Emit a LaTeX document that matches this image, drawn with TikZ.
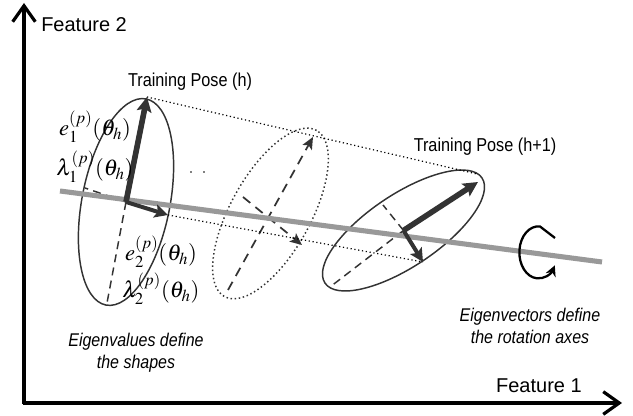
\documentclass[tikz,border=0pt]{standalone}
\usepackage{mathptmx}
\usepackage{fontspec}
\setmainfont{Liberation Sans}
\newfontfamily\narrowfont[FakeStretch=0.87]{Liberation Sans}
\usepackage{tikz}
\usetikzlibrary{arrows.meta,calc}
\definecolor{ink}{HTML}{333333}

\begin{document}
\begin{tikzpicture}[
    x=0.75pt, y=0.75pt,
    axisline/.style={line width=2.4pt, -{Straight Barb[length=12pt,width=17pt]}},
    posering/.style={draw=ink, line width=1.1pt},
    guessring/.style={draw=ink, line width=1.1pt, dotted},
    majorvec/.style={draw=ink, line width=4.2pt, -{Stealth[length=11pt,width=11pt,inset=2pt]}},
    minorvec/.style={draw=ink, line width=3pt, -{Stealth[length=10pt,width=10pt,inset=2pt]}},
    halfaxis/.style={draw=ink, line width=1.1pt, dash pattern=on 6pt off 4pt},
    dashvec/.style={draw=ink, line width=1.3pt, dash pattern=on 7pt off 5pt, -{Stealth[length=9pt,width=8pt,inset=2pt]}},
    link/.style={line width=0.9pt, dotted},
    rotaxis/.style={draw=gray!80, line width=3.8pt},
    spin/.style={line width=1.7pt, -{Stealth[length=8pt,width=8pt]}},
    axislabel/.style={font=\fontsize{15}{17}\selectfont, inner sep=0pt},
    poselabel/.style={font=\narrowfont\fontsize{14}{16}\selectfont, inner sep=0pt},
    note/.style={font=\narrowfont\itshape\fontsize{13.8}{16.5}\selectfont, align=center, inner sep=0pt},
    eig/.style={font=\fontsize{17}{19}\selectfont, inner sep=0pt}
  ]
  \useasboundingbox (0,0) rectangle (633,416);

  % Axes
  \coordinate (origin) at (24,13);
  \coordinate (ytop) at (24,413);
  \coordinate (xend) at (622,13);
  \draw[axisline] ($(origin)+(0,-1.2)$) -- (ytop);
  \draw[axisline] ($(origin)+(-1.2,0)$) -- (xend);
  \node[axislabel, anchor=west] (f2) at (41,391) {Feature 2};
  \node[axislabel, anchor=east] (f1) at (582,30) {Feature 1};

  % Pose h
  \coordinate (c1) at (126,214);
  \coordinate (t1) at (147,319);
  \coordinate (b1) at (107,113);
  \coordinate (l1) at (85,228);
  \coordinate (r1) at (168,201);
  \draw[posering, rotate around={79:(c1)}] (c1) ellipse [x radius=105, y radius=44];
  \draw[halfaxis] (c1) -- (b1);
  \draw[halfaxis] (c1) -- (l1);

  % Interpolated pose
  \coordinate (c2) at (270.5,202.5);
  \coordinate (t2) at (313,279);
  \coordinate (b2) at (228,126);
  \coordinate (l2) at (243,219);
  \coordinate (r2) at (302,171);
  \draw[guessring, rotate around={61:(c2)}] (c2) ellipse [x radius=95, y radius=40];
  \draw[dashvec] (b2) -- (t2);
  \draw[dashvec] (l2) -- (r2);
  \fill (191,244) circle (0.7pt) (204,244) circle (0.7pt);

  % Pose h+1
  \coordinate (c3) at (403.5,185.5);
  \coordinate (t3) at (478,234);
  \coordinate (b3) at (330,129);
  \coordinate (l3) at (383,211);
  \coordinate (r3) at (423,154);
  \coordinate (d3) at (477,242);
  \draw[posering, rotate around={33.8:(c3)}] (c3) ellipse [x radius=94.5, y radius=36];
  \draw[halfaxis] (c3) -- (b3);
  \draw[halfaxis] (c3) -- (l3);

  % Links between poses
  \draw[link] (t1) -- (d3);
  \draw[link] (r1) -- (r3);

  % Rotation axis
  \coordinate (ra) at (60,225);
  \coordinate (rb) at (602,154);
  \draw[rotaxis] (ra) -- (rb);
  \coordinate (spin) at (555,178);
  \draw[spin] (spin) -- (540,189.5) arc [start angle=85, end angle=330, x radius=19, y radius=26];

  % Eigenvectors
  \draw[majorvec] (c1) -- (t1);
  \draw[minorvec] (c1) -- (r1);
  \draw[majorvec] (c3) -- (t3);
  \draw[minorvec] (c3) -- (r3);

  % Labels
  \node[poselabel] (ph) at (190,334) {Training Pose (h)};
  \node[poselabel] (ph1) at (485,269) {Training Pose (h+1)};
  \node[eig] (e1) at (95,289) {$e_1^{(p)}(\theta_h)$};
  \node[eig] (lam1) at (95,249) {$\lambda_1^{(p)}(\theta_h)$};
  \node[eig] (e2) at (161,164) {$e_2^{(p)}(\theta_h)$};
  \node[eig] (lam2) at (161,127) {$\lambda_2^{(p)}(\theta_h)$};
  \node[note] (shapes) at (136,63) {Eigenvalues define\\the shapes};
  \node[note] (axes) at (530,90) {Eigenvectors define\\the rotation axes};
\end{tikzpicture}
\end{document}
